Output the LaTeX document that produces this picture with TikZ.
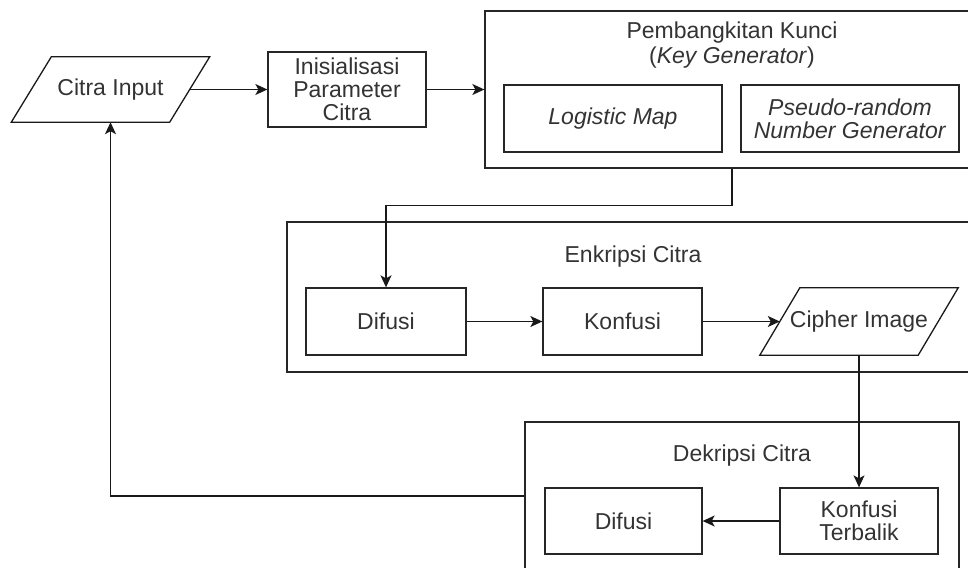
\documentclass[tikz,border=0pt]{standalone}
\usepackage{fontspec}
\setmainfont{Liberation Sans}
\usetikzlibrary{arrows.meta,calc}
\begin{document}
\begin{tikzpicture}[x=1pt,y=-1pt,
  every node/.style={font=\fontsize{23}{23}\selectfont, text=black!80},
  box/.style={draw=black!85, line width=1.3pt, rectangle, inner sep=0pt, align=center},
  plain/.style={inner sep=0pt, align=center},
  lin/.style={draw=black!90, line width=1.3pt},
  arr/.style={lin, -{Stealth[length=12pt,width=11pt,inset=3pt]}}
]
\useasboundingbox (0,0) rectangle (968,567);
\clip (0,0) rectangle (968,567);

% outer group boxes
\node[box, minimum width=494, minimum height=157] (pk) at (732,89.5) {};
\node[plain] (pkt) at (732,33) {Pembangkitan Kunci};
\node[plain] (pkt2) at (732,58) {(\textit{Key Generator})};
\node[box, minimum width=692, minimum height=150] (enk) at (633,297) {};
\node[plain] (enkt) at (633,257) {Enkripsi Citra};
\node[box, minimum width=434, minimum height=148] (dek) at (742,496) {};
\node[plain] (dekt) at (742,456) {Dekripsi Citra};

% input parallelogram
\node[plain, minimum width=158, minimum height=65] (cin) at (110.5,89.5) {Citra Input};
\draw[lin] ($(cin.south west)+(-20,0)$) -- ($(cin.south east)+(-20,0)$) -- ($(cin.north east)+(20,0)$) -- ($(cin.north west)+(20,0)$) -- cycle;

\node[box, minimum width=158, minimum height=75] (ini) at (347,89.5) {Inisialisasi\\Parameter\\Citra};

\node[box, minimum width=218, minimum height=67] (lm) at (613,118.5) {\textit{Logistic Map}};
\node[box, minimum width=218, minimum height=67] (prng) at (850,118.5) {\textit{Pseudo-random}\\\textit{Number Generator}};

\node[box, minimum width=160, minimum height=67] (difA) at (386,321.5) {Difusi};
\node[box, minimum width=159, minimum height=67] (konA) at (622.5,321.5) {Konfusi};
\node[plain, minimum width=158, minimum height=67] (cip) at (859,321.5) {Cipher Image};
\draw[lin] ($(cip.south west)+(-20,0)$) -- ($(cip.south east)+(-20,0)$) -- ($(cip.north east)+(20,0)$) -- ($(cip.north west)+(20,0)$) -- cycle;

\node[box, minimum width=157, minimum height=66] (difB) at (623.5,521) {Difusi};
\node[box, minimum width=158, minimum height=66] (konB) at (859,521) {Konfusi\\Terbalik};

% connectors
\draw[arr] (cin.east) -- (ini.west);
\draw[arr] (ini.east) -- (pk.west);
\draw[arr] (pk.south) -- ++(0,37) -| (difA.north);
\draw[arr] (difA.east) -- (konA.west);
\draw[arr] (konA.east) -- (cip.west);
\draw[arr] (cip.south) -- (konB.north);
\draw[arr] (konB.west) -- (difB.east);
\draw[arr] (dek.west) -| (cin.south);
\end{tikzpicture}
\end{document}
